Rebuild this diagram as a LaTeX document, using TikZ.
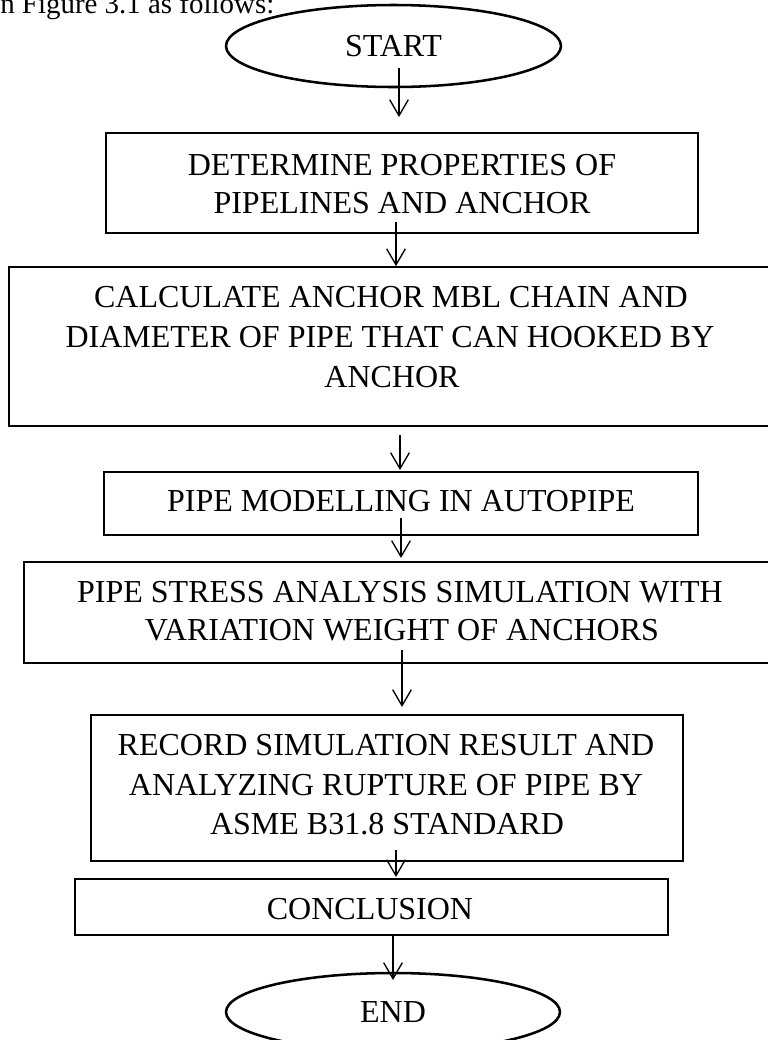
\documentclass[tikz,border=0pt]{standalone}
\usepackage{fontspec}
\setmainfont{Liberation Serif}
\usetikzlibrary{shapes.geometric,arrows.meta}
\tikzset{
  boxs/.style={draw, line width=1.3pt, rectangle, inner sep=0pt},
  ell/.style={draw, line width=1.9pt, ellipse, inner sep=0pt, font=\fontsize{24}{29}\selectfont},
  lbl/.style={anchor=base, inner sep=0pt, font=\fontsize{24}{29}\selectfont},
  arr/.style={line width=1pt, -{Straight Barb[length=12pt, width=14pt, line width=1pt]}}
}
\begin{document}
\begin{tikzpicture}[x=0.75pt, y=-0.75pt]
\useasboundingbox (0,0) rectangle (768,1040);
\clip (0,0) rectangle (768,1040);
% caption fragment
\node[anchor=base west, inner sep=0pt, font=\fontsize{21.7}{26}\selectfont] (cap) at (0,13.5) {n Figure 3.1 as follows:};
% START
\node[ell, minimum width=251.25pt, minimum height=61.5pt] (start) at (393.5,46) {START};
% box 1
\node[boxs, minimum width=444pt, minimum height=75pt] (b1) at (402,183) {};
\node[lbl] (t1a) at (402,175) {DETERMINE PROPERTIES OF};
\node[lbl] (t1b) at (402,213) {PIPELINES AND ANCHOR};
% box 2
\node[boxs, minimum width=578.25pt, minimum height=119.25pt] (b2) at (394.5,346.5) {};
\node[lbl] (t2a) at (391,307) {CALCULATE ANCHOR MBL CHAIN AND};
\node[lbl] (t2b) at (390,347) {DIAMETER OF PIPE THAT CAN HOOKED BY};
\node[lbl] (t2c) at (392,387) {ANCHOR};
% box 3
\node[boxs, minimum width=445.5pt, minimum height=47.25pt] (b3) at (401,503.5) {};
\node[lbl] (t3a) at (401,511) {PIPE MODELLING IN AUTOPIPE};
% box 4
\node[boxs, minimum width=567pt, minimum height=75.75pt] (b4) at (402,612.5) {};
\node[lbl] (t4a) at (400,602) {PIPE STRESS ANALYSIS SIMULATION WITH};
\node[lbl] (t4b) at (402,640) {VARIATION WEIGHT OF ANCHORS};
% box 5
\node[boxs, minimum width=444pt, minimum height=109.5pt] (b5) at (387,788) {};
\node[lbl] (t5a) at (386,755) {RECORD SIMULATION RESULT AND};
\node[lbl] (t5b) at (386,795) {ANALYZING RUPTURE OF PIPE BY};
\node[lbl] (t5c) at (387,834) {ASME B31.8 STANDARD};
% box 6
\node[boxs, minimum width=444.75pt, minimum height=42pt] (b6) at (371.5,907) {};
\node[lbl] (t6a) at (370,919) {CONCLUSION};
% END
\node[ell, minimum width=250.5pt, minimum height=58.5pt] (end) at (393,1012) {END};
% arrow coordinates
\coordinate (a1s) at (399,68);
\coordinate (a1e) at (399,117);
\coordinate (a2s) at (396,222);
\coordinate (a3s) at (400,435);
\coordinate (a3e) at (400,470);
\coordinate (a4s) at (401,518);
\coordinate (a4e) at (401,558);
\coordinate (a5s) at (402,650);
\coordinate (a5e) at (402,707);
\coordinate (a6s) at (396,850);
\coordinate (a6e) at (396,877);
\coordinate (a7s) at (393,935);
\coordinate (a7e) at (393,980);
\draw[arr] (a1s) -- (a1e);
\draw[arr] (a2s) -- (a2s |- b2.north);
\draw[arr] (a3s) -- (a3e);
\draw[arr] (a4s) -- (a4e);
\draw[arr] (a5s) -- (a5e);
\draw[arr] (a6s) -- (a6e);
\draw[arr] (a7s) -- (a7e);
\end{tikzpicture}
\end{document}
